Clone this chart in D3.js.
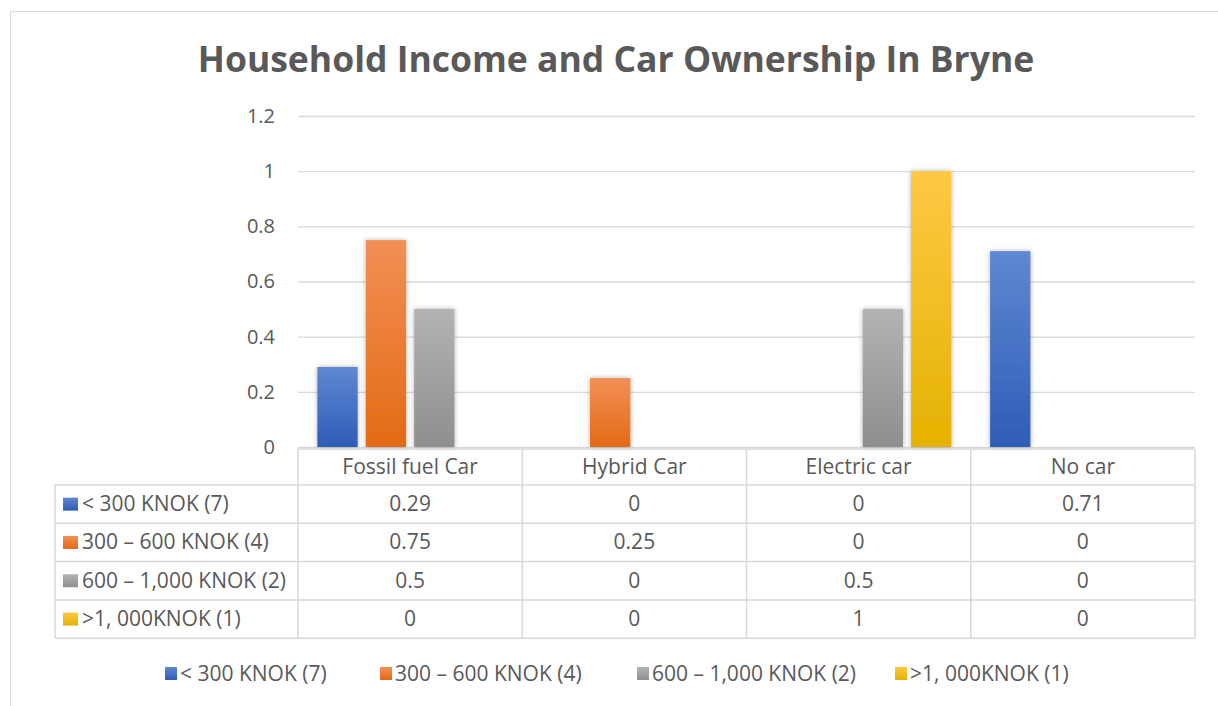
<!DOCTYPE html>
<html>
<head>
<meta charset="utf-8">
<script src="https://cdn.jsdelivr.net/npm/d3@7"></script>
<style>
  body { margin: 0; background: #fff; }
  svg text { font-family: "Open Sans", "Noto Sans", sans-serif; fill: #595959; }
</style>
</head>
<body>
<svg id="chart" width="1218" height="706"></svg>
<script>
const title = 'Household Income and Car Ownership In Bryne';
const categories = ['Fossil fuel Car', 'Hybrid Car', 'Electric car', 'No car'];
const seriesNames = ['< 300 KNOK (7)', '300 – 600 KNOK (4)', '600 – 1,000 KNOK (2)', '>1, 000KNOK (1)'];
const seriesValues = [
  [0.29, 0, 0, 0.71],
  [0.75, 0.25, 0, 0],
  [0.5, 0, 0.5, 0],
  [0, 0, 1, 0]
];
const yTicks = [0, 0.2, 0.4, 0.6, 0.8, 1, 1.2];
// top / bottom colours of the gradient fill
const colors = [
  ['#5f87d2', '#2e5db7'],
  ['#f28f55', '#e36a15'],
  ['#b3b3b3', '#8f8f8f'],
  ['#ffc845', '#e4b200']
];

const svg = d3.select('#chart');
const margin = { left: 298, right: 1195, top: 116, bottom: 447 };
const headerH = 36, rowH = 38.3, labelColX = 55;
const fontSize = 21;

// 外框
svg.append('rect')
  .attr('x', 10.5).attr('y', 11.5)
  .attr('width', 1240).attr('height', 720)
  .attr('fill', 'none').attr('stroke', '#d9d9d9');

const defs = svg.append('defs');
colors.forEach((c, i) => {
  const g = defs.append('linearGradient')
    .attr('id', 'grad' + i)
    .attr('x1', 0).attr('y1', 0).attr('x2', 0).attr('y2', 1);
  g.append('stop').attr('offset', '0%').attr('stop-color', c[0]);
  g.append('stop').attr('offset', '50%').attr('stop-color', d3.interpolateRgb(c[0], c[1])(0.5));
  g.append('stop').attr('offset', '100%').attr('stop-color', c[1]);
});
const shadow = defs.append('filter').attr('id', 'shadow')
  .attr('x', '-30%').attr('y', '-10%').attr('width', '160%').attr('height', '120%');
shadow.append('feDropShadow')
  .attr('dx', 0).attr('dy', 0).attr('stdDeviation', 2.5)
  .attr('flood-color', '#000').attr('flood-opacity', 0.3);

svg.append('text')
  .attr('x', 616).attr('y', 72)
  .attr('text-anchor', 'middle')
  .attr('font-size', 35.5).attr('font-weight', 700)
  .text(title);

const x = d3.scaleBand(categories, [margin.left, margin.right]);
const xInner = d3.scaleBand(d3.range(seriesNames.length), [0, x.bandwidth()])
  .paddingInner(0.167).paddingOuter(0.4);
const y = d3.scaleLinear([0, 1.2], [margin.bottom, margin.top]);

// gridlines
svg.append('g')
  .call(d3.axisLeft(y).tickValues(yTicks).tickSize(-(margin.right - margin.left)).tickFormat(d3.format('~g')).tickPadding(23))
  .attr('transform', `translate(${margin.left},0)`)
  .call(g => g.select('.domain').remove())
  .call(g => g.selectAll('.tick line').attr('stroke', '#d9d9d9').attr('stroke-width', 1.3))
  .call(g => g.selectAll('.tick text').attr('font-size', 20).attr('fill', '#595959')
    .style('font-family', '"Open Sans", sans-serif'));

// bars
const barData = [];
seriesValues.forEach((vals, si) => vals.forEach((v, ci) => barData.push({ si, ci, v })));
svg.append('g')
  .selectAll('rect')
  .data(barData.filter(d => d.v > 0))
  .join('rect')
    .attr('x', d => x(categories[d.ci]) + xInner(d.si))
    .attr('width', xInner.bandwidth())
    .attr('y', d => y(d.v))
    .attr('height', d => y(0) - y(d.v))
    .attr('fill', d => `url(#grad${d.si})`)
    .attr('filter', 'url(#shadow)');

// data table
const tbl = svg.append('g');
const tableTop = 449;
const rowTop = tableTop + headerH;
const gridColor = '#d9d9d9';
const lineStyle = s => s.attr('stroke', gridColor).attr('stroke-width', 1.5);
// header row
tbl.append('line').attr('x1', margin.left).attr('x2', margin.right)
  .attr('y1', tableTop).attr('y2', tableTop).call(lineStyle);
for (let r = 0; r <= seriesNames.length; r++) {
  const yy = rowTop + r * rowH;
  tbl.append('line').attr('x1', labelColX).attr('x2', margin.right)
    .attr('y1', yy).attr('y2', yy).call(lineStyle);
}
const tableBottom = rowTop + seriesNames.length * rowH;
tbl.append('line').attr('x1', labelColX).attr('x2', labelColX)
  .attr('y1', rowTop).attr('y2', tableBottom).call(lineStyle);
[...categories.map(c => x(c)), margin.right].forEach(xx => {
  tbl.append('line').attr('x1', xx).attr('x2', xx)
    .attr('y1', tableTop).attr('y2', tableBottom).call(lineStyle);
});

tbl.selectAll('.cat-label')
  .data(categories)
  .join('text')
    .attr('class', 'cat-label')
    .attr('x', d => x(d) + x.bandwidth() / 2)
    .attr('y', tableTop + headerH / 2 + 7)
    .attr('text-anchor', 'middle')
    .attr('font-size', fontSize)
    .text(d => d);

seriesNames.forEach((name, si) => {
  const rowY = rowTop + si * rowH;
  tbl.append('rect')
    .attr('x', 63).attr('y', rowY + rowH / 2 - 6.5)
    .attr('width', 15).attr('height', 13)
    .attr('fill', `url(#grad${si})`);
  tbl.append('text')
    .attr('x', 82).attr('y', rowY + rowH / 2 + 7)
    .attr('font-size', fontSize)
    .text(name);
  tbl.selectAll('.val' + si)
    .data(seriesValues[si])
    .join('text')
      .attr('x', (d, ci) => x(categories[ci]) + x.bandwidth() / 2)
      .attr('y', rowY + rowH / 2 + 7)
      .attr('text-anchor', 'middle')
      .attr('font-size', fontSize)
      .text(d => d3.format('~g')(d));
});

// legend
const legendX = [165, 380, 637, 895];
const legend = svg.append('g');
seriesNames.forEach((name, si) => {
  legend.append('rect')
    .attr('x', legendX[si]).attr('y', 667)
    .attr('width', 12).attr('height', 13)
    .attr('fill', `url(#grad${si})`);
  legend.append('text')
    .attr('x', legendX[si] + 15).attr('y', 681)
    .attr('font-size', fontSize)
    .text(name);
});
</script>
</body>
</html>
